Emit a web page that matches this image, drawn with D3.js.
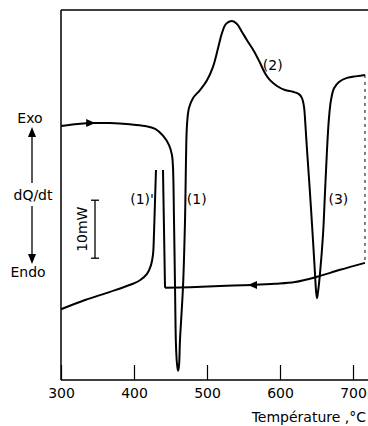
<!DOCTYPE html>
<html>
<head>
<meta charset="utf-8">
<script src="https://cdn.jsdelivr.net/npm/d3@7"></script>
<style>
  body { margin: 0; background: #fff; }
  text { font-family: "DejaVu Sans", sans-serif; fill: #000; }
</style>
</head>
<body>
<script>
// heating run, [temperature degC, heat flow mW (relative)]
const heating = [
  [300, 43.8], [319, 44.1], [340, 44.3], [367, 44.3], [394, 44.1], [415, 43.8],
  [429, 43.3], [440, 42.1], [448, 40.5], [452, 38.8], [453.4, 36.7], [454.8, 27.6],
  [456.2, 16.0], [457.5, 6.0], [458.9, 2.8], [460.3, 1.6], [461.6, 2.4], [463, 6.9],
  [467.1, 16.0], [469.9, 27.6], [471.2, 37.9], [472.6, 44.0], [475.3, 46.9], [480.8, 48.6],
  [490.4, 50.0], [500, 51.7], [508.2, 54.0], [515.1, 57.2], [520.5, 59.8], [526, 61.4],
  [534.2, 61.9], [541.1, 61.4], [548, 60.0], [554.8, 58.6], [564.4, 56.7], [572.6, 54.7],
  [579.5, 52.9], [586.3, 51.7], [595.9, 50.7], [606.8, 50.0], [617.8, 49.7], [626, 49.3],
  [630.1, 48.6], [632.9, 47.1], [634.2, 45.2], [637, 39.7], [641.1, 32.2], [645.2, 24.1],
  [647.9, 18.4], [649.3, 15.5], [650.7, 14.1], [652.1, 15.2], [654.8, 18.4], [658.9, 25.0],
  [661.6, 32.2], [664.4, 39.7], [667.1, 45.2], [669.9, 48.3], [674, 50.3], [680.8, 51.4],
  [691.8, 52.1], [705.5, 52.4], [716.4, 52.6]
];

// cooling run, from 716 degC down to the undercooled jump
const coolingA = [
  [716.4, 20.2], [682.2, 19.0], [650.7, 17.8], [620.5, 16.9], [593.2, 16.6], [563, 16.4],
  [517.8, 16.2], [476.7, 16.0], [442.5, 15.9], [439.7, 36.2]
];
// cooling run after recalescence (peak (1)')
const coolingB = [
  [430.1, 36.2], [428.8, 31.0], [427.4, 25.3], [426, 21.6], [423.3, 19.8], [417.8, 18.3],
  [408.2, 17.2], [398.6, 16.6], [367.1, 15.2], [332.9, 13.8], [300, 12.2]
];

const xTicks = [300, 400, 500, 600, 700];
const peakLabels = [
  { text: "(1)'", t: 411, v: 30.4 },
  { text: "(1)", t: 486, v: 30.4 },
  { text: "(2)", t: 590, v: 53.4 },
  { text: "(3)", t: 680, v: 30.4 }
];

const width = 368, height = 426;

const x = d3.scaleLinear().domain([300, 700]).range([61, 353]);
const y = d3.scaleLinear().domain([0, 63.8]).range([380, 10]);

const svg = d3.select("body").append("svg")
  .attr("width", width)
  .attr("height", height);

// frame
svg.append("line").attr("x1", 61).attr("x2", 61).attr("y1", 10).attr("y2", 380)
  .attr("stroke", "#000").attr("stroke-width", 1.5);
svg.append("line").attr("x1", 61).attr("x2", 368).attr("y1", 10).attr("y2", 10)
  .attr("stroke", "#000").attr("stroke-width", 1.5);
svg.append("line").attr("x1", 61).attr("x2", 368).attr("y1", 380).attr("y2", 380)
  .attr("stroke", "#000").attr("stroke-width", 1.5);

// x axis
const xAxis = svg.append("g")
  .attr("transform", "translate(0,380)")
  .call(d3.axisBottom(x).tickValues(xTicks).tickSize(-15).tickPadding(8).tickFormat(d3.format("d")));
xAxis.select(".domain").remove();
xAxis.selectAll("line").attr("stroke", "#000").attr("stroke-width", 1.2);
xAxis.selectAll("text").attr("font-size", 14).attr("font-family", "DejaVu Sans").attr("fill", "#000");

svg.append("text")
  .attr("x", 366).attr("y", 422)
  .attr("text-anchor", "end")
  .attr("font-size", 14)
  .text("Température ,°C");

// curves
const line = d3.line()
  .x(d => x(d[0]))
  .y(d => y(d[1]))
  .curve(d3.curveCatmullRom.alpha(0.5));

const curves = svg.append("g").attr("fill", "none").attr("stroke", "#000")
  .attr("stroke-width", 2).attr("stroke-linejoin", "round");
curves.append("path").attr("d", line(heating));
curves.append("path").attr("d", d3.line().x(d => x(d[0])).y(d => y(d[1]))
  .curve(d3.curveLinear)(coolingA.slice(-2)));
curves.append("path").attr("d", line(coolingA.slice(0, -1)));
curves.append("path").attr("d", line(coolingB));

// dashed joint at the turning point
svg.append("line")
  .attr("x1", x(heating[heating.length - 1][0])).attr("x2", x(coolingA[0][0]))
  .attr("y1", y(heating[heating.length - 1][1])).attr("y2", y(coolingA[0][1]))
  .attr("stroke", "#000").attr("stroke-width", 1).attr("stroke-dasharray", "3,4");

// direction arrows on curves
function arrowHead(cx, cy, dir) {
  // dir: 1 = right, -1 = left
  svg.append("path")
    .attr("d", `M${cx + dir * 5},${cy} L${cx - dir * 4},${cy - 4} L${cx - dir * 4},${cy + 4} Z`)
    .attr("fill", "#000");
}
arrowHead(x(340), y(44.3), 1);
arrowHead(x(563), y(16.4), -1);

// peak labels
svg.append("g").selectAll("text")
  .data(peakLabels)
  .enter().append("text")
  .attr("x", d => x(d.t))
  .attr("y", d => y(d.v))
  .attr("text-anchor", "middle")
  .attr("font-size", 14)
  .text(d => d.text);

// Exo / Endo indicator
const ind = svg.append("g");
ind.append("text").attr("x", 30).attr("y", 123).attr("text-anchor", "middle")
  .attr("font-size", 14).text("Exo");
ind.append("text").attr("x", 33).attr("y", 200).attr("text-anchor", "middle")
  .attr("font-size", 14).text("dQ/dt");
ind.append("text").attr("x", 28).attr("y", 277).attr("text-anchor", "middle")
  .attr("font-size", 14).text("Endo");
ind.append("line").attr("x1", 32).attr("x2", 32).attr("y1", 183).attr("y2", 135)
  .attr("stroke", "#000").attr("stroke-width", 1.3);
ind.append("path").attr("d", "M32,127 L28,137 L36,137 Z").attr("fill", "#000");
ind.append("line").attr("x1", 32).attr("x2", 32).attr("y1", 206).attr("y2", 255)
  .attr("stroke", "#000").attr("stroke-width", 1.3);
ind.append("path").attr("d", "M32,264 L28,254 L36,254 Z").attr("fill", "#000");

// 10 mW scale bar
const bar = svg.append("g").attr("stroke", "#000").attr("stroke-width", 1.3);
const barX = 95, barTop = y(31.0), barBot = y(21.0);
bar.append("line").attr("x1", barX).attr("x2", barX).attr("y1", barTop).attr("y2", barBot);
bar.append("line").attr("x1", barX - 4).attr("x2", barX + 4).attr("y1", barTop).attr("y2", barTop);
bar.append("line").attr("x1", barX - 4).attr("x2", barX + 4).attr("y1", barBot).attr("y2", barBot);
svg.append("text")
  .attr("transform", `translate(87,${(barTop + barBot) / 2}) rotate(-90)`)
  .attr("text-anchor", "middle")
  .attr("font-size", 14)
  .text("10mW");
</script>
</body>
</html>
